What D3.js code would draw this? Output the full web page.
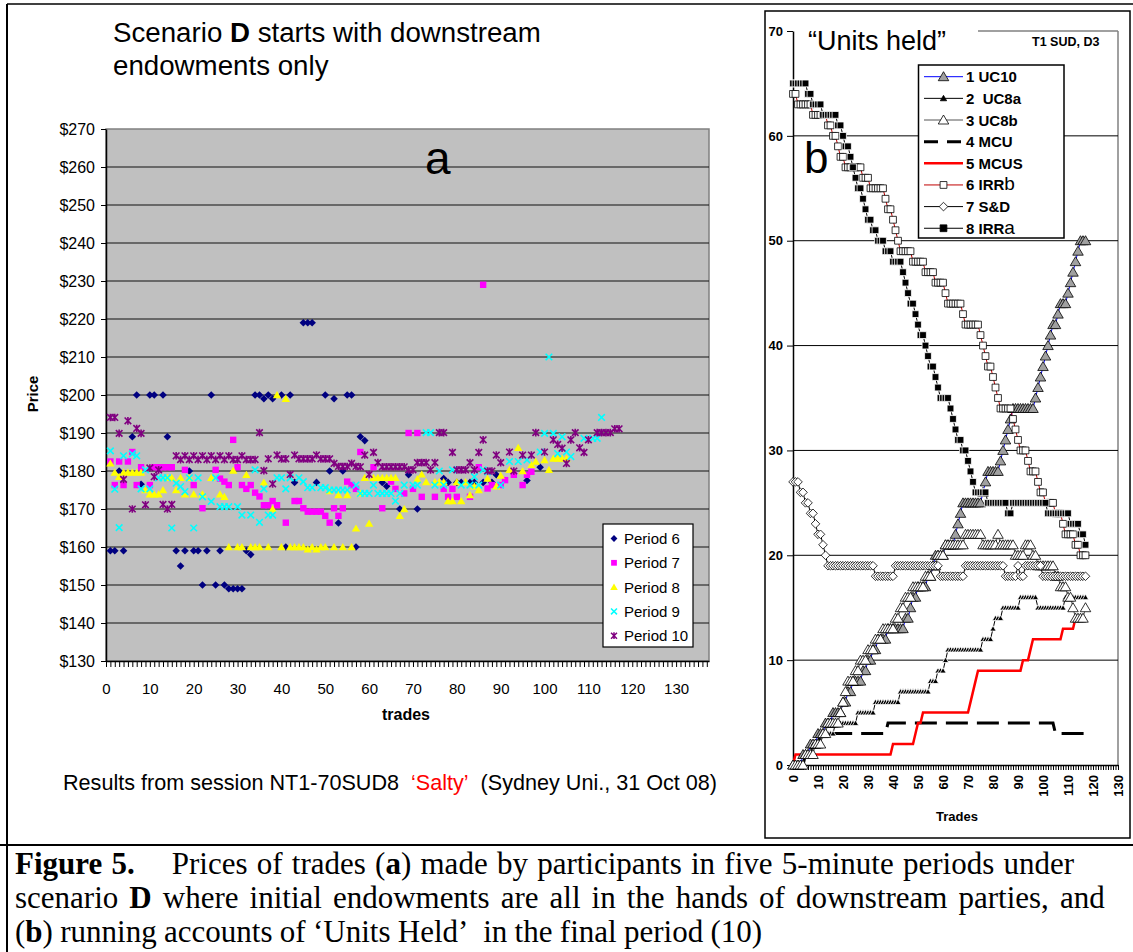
<!DOCTYPE html>
<html><head><meta charset="utf-8">
<script src="https://cdn.jsdelivr.net/npm/d3@7"></script>
<style>body{margin:0;background:#fff}svg{display:block;font-family:"Liberation Sans",Arial,sans-serif}</style>
</head><body>
<svg id="c" width="1133" height="952"></svg>
<script>
// ---------------- DATA : panel a (trade number, price $) ----------------
const priceTicks = [130,140,150,160,170,180,190,200,210,220,230,240,250,260,270];
const tradeLabelsA = [0,10,20,30,40,50,60,70,80,90,100,110,120,130];
const periodNames = ["Period 6","Period 7","Period 8","Period 9","Period 10"];
const p6 = [[1,159],[2,159],[3,180],[4,159],[6,189],[7,200],[8,176.5],[10,200],[11,200],[13,200],[14,189],[16,159],[17,155],[18,159],[19,180],[20,159],[21,159],[22,150],[23,159],[24,200],[25,150],[26,159],[27,150],[28,149],[29,149],[30,149],[31,149],[32,159],[33,158],[34,200],[35,200],[36,199],[37,200],[38,199],[40,200],[41,160],[42,200],[43,177],[45,219],[46,219],[47,219],[48,177],[50,200],[51,180],[52,199],[53,166.3],[54,180],[55,200],[56,200],[57,160],[58,189],[59,188],[63,177],[64,176],[67,170],[69,179],[71,170],[77,178],[78,177],[80,177],[81,177],[83,177],[84,177],[86,177],[88,177],[89,179],[96,177.5],[99,181]];
const p7 = [[1,182.5],[2,176.3],[3,182.5],[4,176.3],[5,182.5],[6,185],[7,176.3],[8,181],[10,176.3],[11,181],[12,181],[13,181],[14,181],[15,181],[18,180.3],[20,176.3],[22,170.2],[25,180.3],[26,178],[27,177.2],[28,176.3],[29,188.2],[30,181],[31,176.3],[32,175.3],[33,176.3],[34,174.3],[35,173.3],[36,171],[37,171],[38,172.1],[39,171],[41,166.4],[43,172.1],[44,172.1],[45,170.2],[46,169.3],[47,169.3],[48,169.3],[49,169.3],[50,168.2],[51,166.4],[52,170.2],[53,168.2],[54,170.2],[55,177.2],[56,176.3],[57,175.3],[58,185],[61,181],[63,170.2],[65,177.2],[66,175.3],[68,174.1],[69,190],[70,175.3],[71,190],[72,173.2],[75,173.2],[77,175.3],[78,173.2],[79,175.3],[80,173.2],[83,173.2],[85,181],[86,229],[87,175.4],[88,176.3],[90,176.3],[91,177.6],[93,179],[95,176.3],[96,179],[97,179.8]];
const p8 = [[1,182],[2,179.6],[3,178.5],[4,179.6],[5,179.6],[6,179.6],[7,179.6],[8,179.6],[9,175],[10,173.9],[11,173.9],[12,173.9],[13,175],[14,178.2],[15,178.2],[16,175],[17,178.2],[18,173.9],[19,178.2],[20,173.9],[22,173.9],[24,178.2],[26,173.9],[27,173.2],[28,160],[29,180.1],[30,160],[31,160],[32,179],[33,160],[34,160],[35,160],[36,177],[37,160],[38,170],[39,200],[40,160],[41,199],[42,160],[43,160],[44,160],[45,160],[46,159.4],[47,160],[48,159.4],[49,160],[50,160],[51,174.7],[52,160],[53,173.7],[54,160],[55,173.7],[56,160],[57,164.9],[58,174.1],[59,178.2],[60,166.2],[61,178.2],[62,178.2],[63,178.2],[64,178.2],[65,178.2],[66,178.2],[67,168.2],[68,170],[71,177.9],[72,179.1],[73,177.1],[75,177.1],[76,177.1],[77,177.1],[78,172.1],[79,172.1],[80,177.1],[81,172.1],[82,177.1],[83,173.7],[84,176],[85,175],[87,178],[89,176],[90,178.8],[92,180.3],[94,186.1],[95,180],[97,181.6],[98,182.5],[100,182.9],[101,180.3],[102,183.3],[103,183.3],[104,183.3],[105,183.3]];
const p9 = [[1,185.3],[2,175.2],[3,165.1],[4,184],[6,184.5],[7,184],[8,175.3],[9,180.3],[10,175.3],[12,178.2],[13,178.2],[14,178.2],[15,165],[16,176.8],[17,175.9],[18,174.6],[19,178.2],[20,165],[21,178.2],[22,173.2],[24,172],[25,178.2],[26,170.6],[27,170.6],[28,170.6],[30,170.6],[31,168.4],[33,168.4],[34,180.3],[35,166.5],[36,175.3],[37,168.4],[38,168.4],[39,178.2],[40,178.2],[41,175.3],[42,178.2],[44,178.2],[45,177.2],[46,175.6],[47,175.6],[49,175.6],[50,175.6],[51,175],[52,175],[53,175],[54,175],[55,175],[57,176.3],[58,174.1],[59,174.1],[60,174.1],[61,176.3],[62,174.1],[63,174.1],[64,174.1],[65,174.1],[66,172.1],[67,174.1],[68,176.3],[70,176.3],[71,176.3],[73,190.1],[74,190.1],[75,176.3],[76,180],[77,176.3],[79,180.3],[81,176.3],[83,176.3],[84,178.5],[85,176.3],[86,180.3],[87,179.8],[90,176.3],[92,182.5],[94,182.5],[96,182.9],[99,185],[100,189.9],[101,210],[102,189.9],[103,184.6],[104,189],[105,185],[106,183.8],[109,188.6],[111,188.6],[112,188.6],[113,194.1]];
const p10 = [[1,194.1],[2,194.1],[3,189.9],[4,177.8],[5,193.2],[6,170],[7,191.2],[8,189.9],[9,171.1],[10,180.8],[11,178.5],[12,180.3],[13,171.2],[14,170],[15,171.2],[16,184],[17,183],[18,184],[19,183],[20,184],[21,183],[22,184],[23,183],[24,184],[25,183],[26,184],[27,183],[28,184],[29,183],[30,183],[31,184],[32,183],[33,183],[34,183],[35,190.1],[36,180.1],[37,183.2],[38,176.6],[39,184.2],[40,183.2],[41,183.2],[42,179.1],[43,184.2],[44,183.2],[45,183.2],[46,183.2],[47,183.2],[48,184.2],[49,183.2],[50,183.2],[51,183.2],[52,182],[53,181.2],[54,181.2],[55,181.2],[56,182],[57,181.2],[58,181.1],[59,184.2],[60,179.1],[61,184.9],[62,182.2],[63,181.1],[64,181.1],[65,181.1],[66,181.1],[67,181.1],[68,181.1],[69,180.3],[70,180.3],[71,182.2],[72,182.2],[73,182.2],[74,180.3],[75,182.2],[76,190.1],[77,190.1],[79,184.9],[80,180.3],[81,180.3],[82,180.3],[83,182.2],[84,180.3],[85,184.9],[86,188.2],[87,180],[88,180],[89,184.2],[90,182.2],[92,185],[93,180],[95,184.2],[97,184.2],[98,190.1],[100,185],[102,188.2],[103,187],[104,186],[105,182],[106,188.2],[107,190.1],[108,186.1],[109,184.9],[110,188.2],[112,190.1],[113,190.1],[114,190.1],[115,190.1],[116,191.1],[117,191.1]];

// ---------------- DATA : panel b (units held after each trade 0..117) ----------------
const unitTicks = [0,10,20,30,40,50,60,70];
const tradeLabelsB = [0,10,20,30,40,50,60,70,80,90,100,110,120,130];
const uc10 = [0,0,0,0,1,1,1,2,2,2, 3,3,3,4,4,4,5,5,5,5, 6,6,7,7,8,8,8,8,9,9, 10,10,11,11,12,12,12,12,13,13, 13,13,13,13,13,14,14,15,16,16, 17,17,17,17,18,18,19,20,20,20, 20,21,21,21,21,22,23,24,25,25, 25,25,25,25,25,25,26,27,28,28, 28,28,28,29,30,31,32,33,34,34, 34,34,34,34,34,34,34,35,36,37, 38,39,40,41,42,42,43,44,44,44, 45,46,47,48,49,50,50,50];
const uc8a = [0,0,0,0,0,1,1,1,2,2, 2,2,3,3,3,3,3,4,4,4, 4,4,4,4,4,4,5,5,5,5, 5,5,5,6,6,6,6,6,6,6, 6,6,6,7,7,7,7,7,7,7, 7,7,7,7,7,8,8,8,9,9, 9,10,11,11,11,11,11,11,11,11, 11,11,11,11,11,11,12,12,12,12, 13,14,14,14,15,15,15,15,15,15, 15,16,16,16,16,16,16,16,15,15, 15,15,15,15,15,15,15,15,15,16, 16,16,16,16,16,16,16,16];
const uc8b = [0,0,0,0,0,1,1,1,1,2, 2,2,3,3,4,4,4,4,4,5, 6,7,8,8,8,9,9,10,10,10, 11,11,11,12,12,12,13,13,13,13, 13,14,14,15,15,16,16,16,17,17, 17,17,17,18,18,18,19,19,20,20, 20,21,21,21,21,21,21,21,21,22, 22,22,22,22,22,22,21,21,21,21, 21,21,22,21,21,21,21,21,21,20, 20,20,20,21,21,21,20,20,19,19, 19,19,19,19,19,18,18,17,17,17, 16,16,15,14,14,14,14,15];
const mcu = [0,0,0,0,0,1,1,1,2,2, 2,3,3,3,3,3,3,3,3,3, 3,3,3,3,3,3,3,3,3,3, 3,3,3,3,3,3,3,3,4,4, 4,4,4,4,4,4,4,4,4,4, 4,4,4,4,4,4,4,4,4,4, 4,4,4,4,4,4,4,4,4,4, 4,4,4,4,4,4,4,4,4,4, 4,4,4,4,4,4,4,4,4,4, 4,4,4,4,4,4,4,4,4,4, 4,4,4,4,4,3,3,3,3,3, 3,3,3,3,3,3,3,3];
const mcus = [0,1,1,1,1,1,1,1,1,1, 1,1,1,1,1,1,1,1,1,1, 1,1,1,1,1,1,1,1,1,1, 1,1,1,1,1,1,1,1,1,1, 2,2,2,2,2,2,2,2,2,3, 4,4,5,5,5,5,5,5,5,5, 5,5,5,5,5,5,5,5,5,5, 5,6,7,8,9,9,9,9,9,9, 9,9,9,9,9,9,9,9,9,9, 9,9,10,10,10,11,12,12,12,12, 12,12,12,12,12,12,12,12,13,13, 13,13,13,14,14,14,14,14];
const irrB = [64,64,63,63,63,63,63,63,62,62, 62,62,62,62,61,61,60,60,59,58, 58,57,57,57,57,57,57,57,56,56, 56,55,55,55,55,55,55,54,53,53, 52,51,50,49,49,49,49,49,48,48, 48,48,48,47,47,47,47,46,46,46, 46,45,44,44,44,44,44,44,43,42, 42,42,42,42,42,41,40,39,38,38, 37,36,35,34,34,34,34,34,33,32, 31,30,30,30,29,28,28,28,27,26, 26,25,25,25,25,24,24,24,23,22, 22,22,22,21,21,20,20,20];
const sd = [27,27,27,26,26,25,25,24,24,23, 22,22,21,20,19,19,19,19,19,19, 19,19,19,19,19,19,19,19,19,19, 19,19,19,18,18,18,18,18,18,18, 18,19,19,19,19,19,19,19,19,19, 19,19,19,19,19,19,19,19,19,18, 18,18,18,18,18,18,18,18,18,19, 19,19,19,19,19,19,19,19,19,19, 19,19,19,19,19,18,18,18,18,18, 19,18,18,19,19,19,19,19,19,19, 18,18,18,18,18,18,18,18,18,18, 18,18,18,18,18,18,18,18];
const irrA = [65,65,65,65,65,65,64,64,63,63, 63,63,62,62,62,62,62,62,61,61, 60,59,59,58,57,56,55,55,54,53, 52,52,51,51,50,50,50,49,49,49, 48,48,48,48,47,46,45,44,44,43, 42,41,41,40,39,38,38,37,36,35, 35,35,35,34,33,32,31,31,30,30, 29,28,27,26,26,26,26,26,25,25, 25,25,25,25,25,25,24,24,25,25, 25,25,25,25,25,25,25,25,25,25, 25,25,24,24,24,24,24,24,24,24, 24,23,23,23,23,22,22,21];
const seriesNames = ["1 UC10","2  UC8a","3 UC8b","4 MCU","5 MCUS","6 IRR","7 S&D","8 IRR"];

// ---------------- DRAWING ----------------
const svg = d3.select('#c');
const F = '"Liberation Sans",Arial,sans-serif';
const SERIF = '"Liberation Serif","Times New Roman",serif';

svg.append('line').attr('x1',7).attr('x2',7).attr('y1',4).attr('y2',952).attr('stroke','#000').attr('stroke-width',2);
svg.append('line').attr('x1',7).attr('x2',1133).attr('y1',4).attr('y2',4).attr('stroke','#000').attr('stroke-width',1.5);
svg.append('line').attr('x1',0).attr('x2',1133).attr('y1',845).attr('y2',845).attr('stroke','#000').attr('stroke-width',2);
svg.append('rect').attr('x',765).attr('y',11).attr('width',365).attr('height',827).attr('fill','none').attr('stroke','#000').attr('stroke-width',1.5);

function mk(type, r){
  switch(type){
    case 'diamond': return `M0,${-r}L${r},0L0,${r}L${-r},0Z`;
    case 'square': return `M${-r},${-r}H${r}V${r}H${-r}Z`;
    case 'triangle': return `M0,${-r}L${r*1.05},${r*0.8}L${-r*1.05},${r*0.8}Z`;
    case 'x': return `M${-r},${-r}L${r},${r}M${r},${-r}L${-r},${r}`;
    case 'star': return `M${-r},${-r}L${r},${r}M${r},${-r}L${-r},${r}M0,${-r*1.15}V${r*1.15}`;
  }
}

// ===== Panel a =====
const xA = d3.scaleLinear().domain([0,137.5]).range([106,709]);
const yA = d3.scaleLinear().domain([130,270]).range([661,129]);
const gA = svg.append('g');
gA.append('rect').attr('x',xA(0)).attr('y',yA(270)).attr('width',xA(137.5)-xA(0)).attr('height',yA(130)-yA(270)).attr('fill','#c0c0c0').attr('stroke','#808080').attr('stroke-width',1.5);
gA.selectAll('line.g').data(priceTicks.filter(v=>v>130&&v<270)).join('line')
  .attr('x1',xA(0)).attr('x2',xA(137.5)).attr('y1',d=>yA(d)).attr('y2',d=>yA(d)).attr('stroke','#111').attr('stroke-width',1);
const axYA = gA.append('g').attr('transform',`translate(${xA(0)},0)`)
  .call(d3.axisLeft(yA).tickValues(priceTicks).tickSize(5).tickSizeOuter(0).tickPadding(6).tickFormat(d=>'$'+d));
axYA.selectAll('text').attr('font-family',F).attr('font-size',16).attr('fill','#000');
axYA.select('.domain').attr('stroke','#000').attr('stroke-width',1.5);
const axXA = gA.append('g').attr('transform',`translate(0,${yA(130)})`)
  .call(d3.axisBottom(xA).tickValues(d3.range(0,138)).tickSize(6).tickSizeOuter(0).tickPadding(16).tickFormat(d=>tradeLabelsA.includes(d)?d:''));
axXA.selectAll('text').attr('font-family',F).attr('font-size',15).attr('fill','#000');
axXA.select('.domain').attr('stroke','#000').attr('stroke-width',1.5);

const periodDefs = [
  {data:p6, type:'diamond', r:3.8, fill:'#000080'},
  {data:p7, type:'square', r:3.2, fill:'#ff00ff'},
  {data:p8, type:'triangle', r:4, fill:'#ffff00'},
  {data:p9, type:'x', r:3.3, stroke:'#00ffff'},
  {data:p10, type:'star', r:3.3, stroke:'#800080'}
];
periodDefs.forEach(s=>{
  gA.append('g').selectAll('path').data(s.data).join('path')
    .attr('transform',d=>`translate(${xA(d[0])},${yA(d[1])})`)
    .attr('d',mk(s.type,s.r))
    .attr('fill',s.fill||'none').attr('stroke',s.stroke||'none').attr('stroke-width',1.6);
});
const legA = gA.append('g');
legA.append('rect').attr('x',603).attr('y',524).attr('width',90).attr('height',123).attr('fill','#fff').attr('stroke','#000').attr('stroke-width',1.2);
periodDefs.forEach((s,i)=>{
  const cy = 538.5 + i*24.3;
  legA.append('path').attr('transform',`translate(614,${cy})`).attr('d',mk(s.type,s.r*0.9))
    .attr('fill',s.fill||'none').attr('stroke',s.stroke||'none').attr('stroke-width',1.5);
  legA.append('text').attr('x',624).attr('y',cy+5.5).attr('font-size',15).attr('font-family',F).text(periodNames[i]);
});
const t1 = svg.append('text').attr('x',113).attr('y',42).attr('font-size',27.7).attr('font-family',F);
t1.append('tspan').text('Scenario ');
t1.append('tspan').attr('font-weight','bold').text('D');
t1.append('tspan').text(' starts with downstream');
svg.append('text').attr('x',113).attr('y',75).attr('font-size',27.7).attr('font-family',F).text('endowments only');
svg.append('text').attr('x',425).attr('y',174).attr('font-size',46).attr('font-family',F).text('a');
svg.append('text').attr('transform','translate(38,394) rotate(-90)').attr('text-anchor','middle').attr('font-size',15).attr('font-weight','bold').attr('font-family',F).text('Price');
svg.append('text').attr('x',406).attr('y',720).attr('text-anchor','middle').attr('font-size',16).attr('font-weight','bold').attr('font-family',F).text('trades');
const rs = svg.append('text').attr('x',63).attr('y',790).attr('font-size',21.6).attr('font-family',F).style('white-space','pre');
rs.append('tspan').text('Results from session NT1-70SUD8\u00a0\u00a0');
rs.append('tspan').attr('fill','#ff0000').text('\u2018Salty\u2019');
rs.append('tspan').text('\u00a0\u00a0(Sydney Uni., 31 Oct 08)');

// ===== Panel b =====
const xB = d3.scaleLinear().domain([0,130]).range([793,1118]);
const yB = d3.scaleLinear().domain([0,70]).range([765,31]);
const gB = svg.append('g');
gB.append('line').attr('x1',978).attr('x2',xB(130)).attr('y1',yB(70)).attr('y2',yB(70)).attr('stroke','#808080').attr('stroke-width',1.5);
gB.append('line').attr('x1',xB(130)).attr('x2',xB(130)).attr('y1',yB(70)).attr('y2',yB(0)).attr('stroke','#808080').attr('stroke-width',1.5);
gB.selectAll('line.g').data(unitTicks.filter(v=>v>0&&v<70)).join('line')
  .attr('x1',xB(0)).attr('x2',xB(130)).attr('y1',d=>yB(d)).attr('y2',d=>yB(d)).attr('stroke','#000').attr('stroke-width',1);
const axYB = gB.append('g').attr('transform',`translate(${xB(0)},0)`)
  .call(d3.axisLeft(yB).tickValues(unitTicks).tickSize(6).tickSizeOuter(0).tickPadding(4));
axYB.selectAll('text').attr('font-family',F).attr('font-size',13).attr('font-weight','bold').attr('fill','#000');
axYB.select('.domain').attr('stroke','#000').attr('stroke-width',1.5);
const axXB = gB.append('g').attr('transform',`translate(0,${yB(0)})`)
  .call(d3.axisBottom(xB).tickValues(d3.range(0,131)).tickSize(5).tickSizeOuter(0).tickFormat(d=>tradeLabelsB.includes(d)?d:''));
axXB.select('.domain').attr('stroke','#000').attr('stroke-width',1.5);
axXB.selectAll('text').attr('font-family',F).attr('font-size',13).attr('font-weight','bold').attr('fill','#000')
  .attr('transform','rotate(-90)').attr('text-anchor','end').attr('dy','0.35em').attr('x',-10).attr('y',0);

const seriesB = [
  {data:uc10, line:'#0000ff', lw:1, type:'triangle', r:5, fill:'#a0a0a0', ms:'#000'},
  {data:uc8a, line:'#000', lw:1, type:'triangle', r:3, fill:'#000', ms:'#fff'},
  {data:uc8b, line:'#555', lw:1, type:'triangle', r:5, fill:'#fff', ms:'#000'},
  {data:mcu, line:'#000', lw:3, dash:'22,9'},
  {data:mcus, line:'#ff0000', lw:2.5},
  {data:irrB, line:'#c00000', lw:1, type:'square', r:3.4, fill:'#fff', ms:'#000'},
  {data:sd, line:'#000', lw:1, type:'diamond', r:4.3, fill:'#fff', ms:'#000'},
  {data:irrA, line:'#000', lw:1, type:'square', r:3.4, fill:'#000', ms:'#fff'}
];
const lineGen = d3.line().x((d,i)=>xB(i)).y(d=>yB(d));
seriesB.forEach(s=>{
  gB.append('path').attr('d',lineGen(s.data)).attr('fill','none').attr('stroke',s.line)
    .attr('stroke-width',s.lw).attr('stroke-dasharray',s.dash||null);
});
seriesB.forEach(s=>{
  if(!s.type) return;
  gB.append('g').selectAll('path').data(s.data).join('path')
    .attr('transform',(d,i)=>`translate(${xB(i)},${yB(d)})`)
    .attr('d',mk(s.type,s.r)).attr('fill',s.fill).attr('stroke',s.ms).attr('stroke-width',0.8);
});
svg.append('text').attr('x',808).attr('y',50).attr('font-size',27).attr('font-family',F).text('\u201cUnits held\u201d');
svg.append('text').attr('x',1032).attr('y',46).attr('font-size',12.5).attr('font-weight','bold').attr('font-family',F).text('T1 SUD, D3');
svg.append('text').attr('x',804).attr('y',173).attr('font-size',44).attr('font-family',F).text('b');
svg.append('text').attr('x',957).attr('y',821).attr('text-anchor','middle').attr('font-size',13).attr('font-weight','bold').attr('font-family',F).text('Trades');
const legB = gB.append('g');
legB.append('rect').attr('x',918.5).attr('y',65).attr('width',145.5).attr('height',173).attr('fill','#fff').attr('stroke','#000').attr('stroke-width',1.5);
seriesB.forEach((s,i)=>{
  const cy = 76.7 + i*21.65;
  legB.append('line').attr('x1',924).attr('x2',963).attr('y1',cy).attr('y2',cy).attr('stroke',s.line)
    .attr('stroke-width',s.lw).attr('stroke-dasharray',s.dash?'14,9':null);
  if(s.type) legB.append('path').attr('transform',`translate(943.5,${cy})`).attr('d',mk(s.type,s.r))
    .attr('fill',s.fill).attr('stroke',s.ms==='#fff'?'#000':s.ms).attr('stroke-width',0.8);
  const t = legB.append('text').attr('x',966).attr('y',cy+5.5).attr('font-size',15).attr('font-weight','bold').attr('font-family',F).style('white-space','pre').text(seriesNames[i].replace('  ','\u00a0 '));
  if(i===5) t.append('tspan').attr('font-weight','normal').attr('font-size',19).text('b');
  if(i===7) t.append('tspan').attr('font-weight','normal').attr('font-size',19).text('a');
});

// caption
const cap = [
  [['Figure 5.',1],['\u00a0\u00a0\u00a0\u00a0Prices of trades (',0],['a',1],[') made by participants in five 5-minute periods under',0]],
  [['scenario ',0],['D',1],[' where initial endowments are all in the hands of downstream parties, and',0]],
  [['(',0],['b',1],[') running accounts of \u2018Units Held\u2019\u00a0 in the final period (10)',0]]
];
const capWordSpacing = [1.5, 3.3, -0.4];
cap.forEach((line,i)=>{
  const t = svg.append('text').attr('x',15).attr('y',874+i*34).attr('font-size',31)
    .style('font-family',SERIF).style('white-space','pre').style('word-spacing',capWordSpacing[i]+'px');
  line.forEach(([s,b])=>t.append('tspan').attr('font-weight',b?'bold':'normal').text(s));
});
</script></body></html>
